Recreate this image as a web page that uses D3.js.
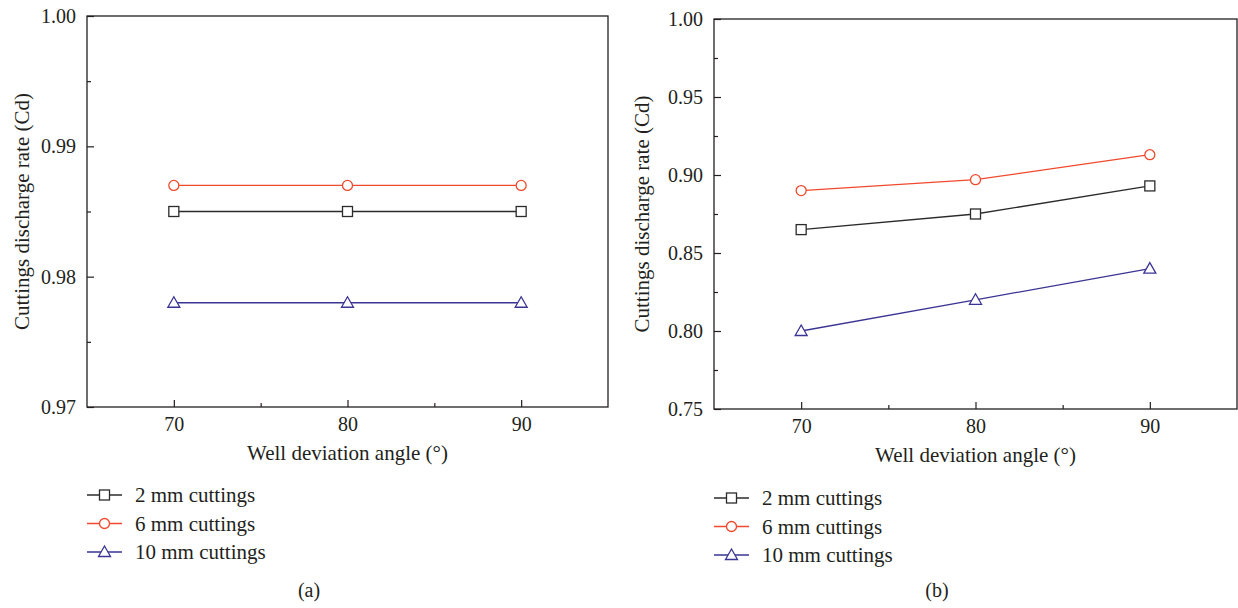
<!DOCTYPE html>
<html>
<head>
<meta charset="utf-8">
<script src="https://cdn.jsdelivr.net/npm/d3@7"></script>
<style>
  body { margin: 0; background: #fff; }
  svg text { font-family: "Liberation Serif", "DejaVu Serif", serif; fill: #231f20; }
</style>
</head>
<body>
<script>
// data
const angles = [70, 80, 90];
const seriesNames = ["2 mm cuttings", "6 mm cuttings", "10 mm cuttings"];

// panel (a)
const a2mm = [0.985, 0.985, 0.985];
const a6mm = [0.987, 0.987, 0.987];
const a10mm = [0.978, 0.978, 0.978];
const aYTicks = [0.97, 0.98, 0.99, 1.00];

// panel (b)
const b2mm = [0.865, 0.875, 0.893];
const b6mm = [0.890, 0.897, 0.913];
const b10mm = [0.800, 0.820, 0.840];
const bYTicks = [0.75, 0.80, 0.85, 0.90, 0.95, 1.00];

const colors = ["#2b2b2b", "#f0492d", "#3a3494"];
const shapes = ["square", "circle", "triangle"];

const svg = d3.select("body").append("svg")
    .attr("width", 1238)
    .attr("height", 608);

function marker(g, shape, color, x, y) {
  if (shape == "square") {
    g.append("rect").attr("x", x - 5).attr("y", y - 5)
      .attr("width", 10).attr("height", 10)
      .attr("fill", "#fff").attr("stroke", color).attr("stroke-width", 1.3);
  } else if (shape == "circle") {
    g.append("circle").attr("cx", x).attr("cy", y).attr("r", 5)
      .attr("fill", "#fff").attr("stroke", color).attr("stroke-width", 1.3);
  } else {
    g.append("path")
      .attr("d", `M ${x} ${y - 6} L ${x + 6} ${y + 4.5} L ${x - 6} ${y + 4.5} Z`)
      .attr("fill", "#fff").attr("stroke", color).attr("stroke-width", 1.3);
  }
}

function drawPanel(p) {
  const x = d3.scaleLinear().domain([65, 95]).range([p.left, p.right]);
  const y = d3.scaleLinear().domain(p.yDomain).range([p.bottom, p.top]);
  const g = svg.append("g");

  // frame
  g.append("rect")
    .attr("x", p.left).attr("y", p.top)
    .attr("width", p.right - p.left).attr("height", p.bottom - p.top)
    .attr("fill", "none").attr("stroke", "#231f20").attr("stroke-width", 1.3);

  // y axis (ticks point inward)
  const yAxis = d3.axisLeft(y).tickValues(p.yTicks).tickSize(-7).tickPadding(11)
    .tickFormat(d3.format(".2f"));
  const ya = g.append("g").attr("transform", `translate(${p.left},0)`).call(yAxis);
  const yMinor = d3.axisLeft(y).tickValues(p.yMinor).tickSize(-4).tickFormat("");
  const ym = g.append("g").attr("transform", `translate(${p.left},0)`).call(yMinor);

  // x axis
  const xAxis = d3.axisBottom(x).tickValues(angles).tickSize(-7).tickPadding(10);
  const xa = g.append("g").attr("transform", `translate(0,${p.bottom})`).call(xAxis);
  const xMinor = d3.axisBottom(x).tickValues([75, 85]).tickSize(-4).tickFormat("");
  const xm = g.append("g").attr("transform", `translate(0,${p.bottom})`).call(xMinor);

  [ya, ym, xa, xm].forEach(function(ax) {
    ax.select(".domain").remove();
    ax.selectAll("line").attr("stroke", "#231f20").attr("stroke-width", 1.2);
    ax.selectAll("text").attr("font-size", 20).attr("fill", "#231f20")
      .attr("font-family", "Liberation Serif, DejaVu Serif, serif");
  });

  // axis titles
  g.append("text")
    .attr("x", (p.left + p.right) / 2).attr("y", p.bottom + 53)
    .attr("text-anchor", "middle").attr("font-size", 21)
    .text("Well deviation angle (°)");
  g.append("text")
    .attr("transform", `translate(${p.left - p.titleOffset},${(p.top + p.bottom) / 2}) rotate(-90)`)
    .attr("text-anchor", "middle").attr("font-size", 21)
    .text("Cuttings discharge rate (Cd)");

  // series
  const line = d3.line().x((d, i) => x(angles[i])).y(d => y(d));
  p.series.forEach(function(s, k) {
    g.append("path").datum(s)
      .attr("d", line)
      .attr("fill", "none").attr("stroke", colors[k]).attr("stroke-width", 1.3);
    s.forEach(function(v, i) {
      marker(g, shapes[k], colors[k], x(angles[i]), y(v));
    });
  });

  // legend
  seriesNames.forEach(function(name, k) {
    const ly = p.legendY + k * p.legendGap;
    g.append("line")
      .attr("x1", p.legendX).attr("x2", p.legendX + 35)
      .attr("y1", ly).attr("y2", ly)
      .attr("stroke", colors[k]).attr("stroke-width", 1.3);
    marker(g, shapes[k], colors[k], p.legendX + 17.5, ly);
    g.append("text")
      .attr("x", p.legendX + 48).attr("y", ly + 7)
      .attr("font-size", 21)
      .text(name);
  });

  // caption
  g.append("text")
    .attr("x", p.captionX).attr("y", 597)
    .attr("text-anchor", "middle").attr("font-size", 20)
    .text(p.caption);
}

drawPanel({
  left: 87, right: 608, top: 16, bottom: 407,
  yDomain: [0.97, 1.00], yTicks: aYTicks, yMinor: [0.975, 0.985, 0.995],
  series: [a2mm, a6mm, a10mm], titleOffset: 58,
  legendX: 87, legendY: 495, legendGap: 28.5,
  captionX: 309, caption: "(a)"
});

drawPanel({
  left: 714, right: 1237, top: 19, bottom: 409,
  yDomain: [0.75, 1.00], yTicks: bYTicks, yMinor: [0.775, 0.825, 0.875, 0.925, 0.975],
  series: [b2mm, b6mm, b10mm], titleOffset: 65,
  legendX: 714, legendY: 498, legendGap: 28.5,
  captionX: 937, caption: "(b)"
});
</script>
</body>
</html>
